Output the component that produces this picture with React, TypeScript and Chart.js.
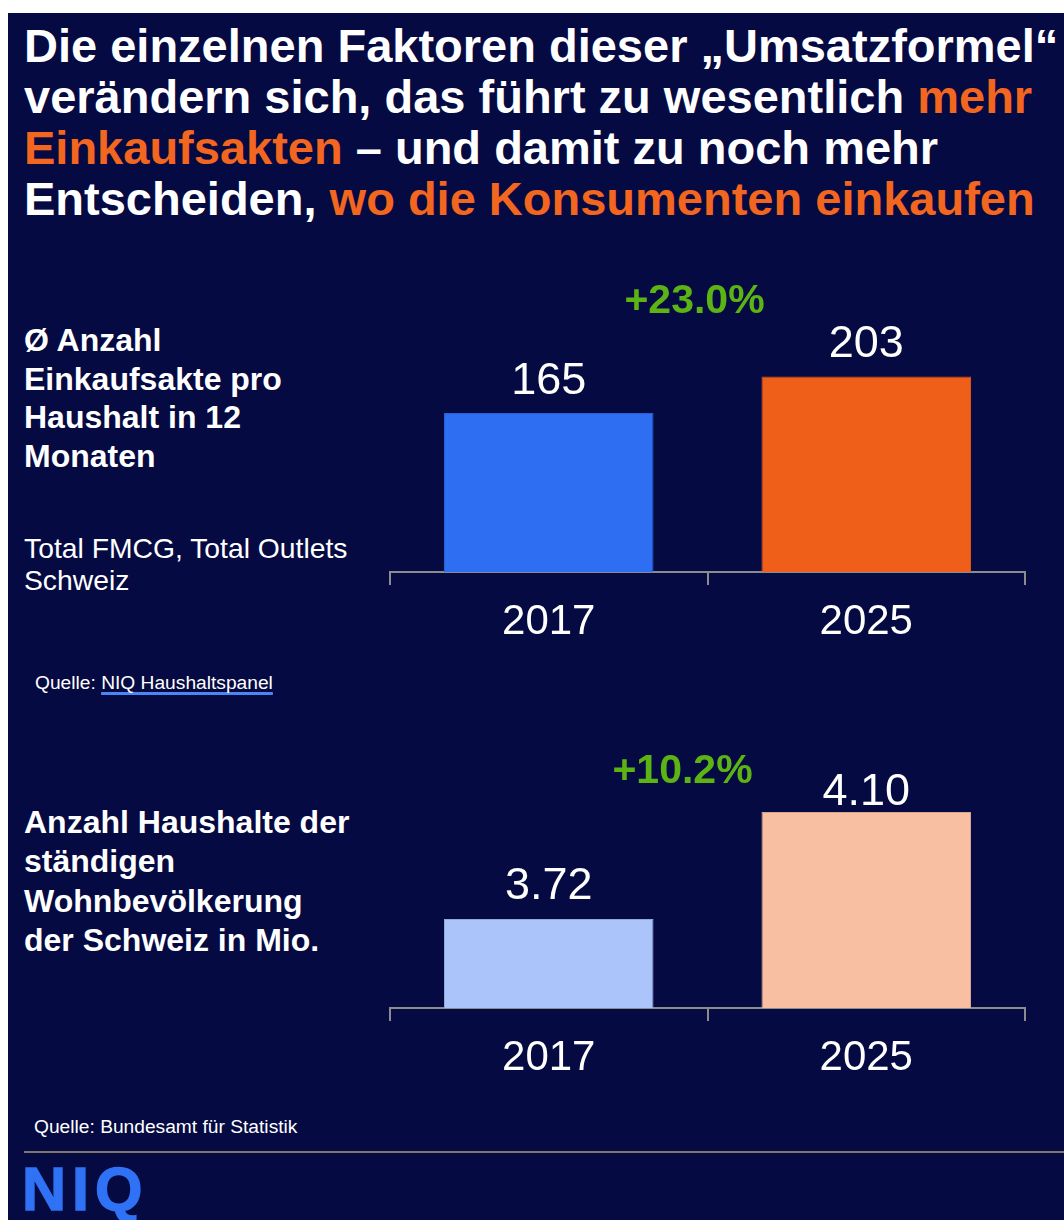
import React, { useEffect, useRef } from "react";
import { Chart, registerables } from "chart.js";

Chart.register(...registerables);

const FONT = '"Liberation Sans", Arial, Helvetica, sans-serif';

const years = ["2017", "2025"];
const shoppingTrips = [165, 203];
const households = [3.72, 4.1];

const NAVY = "#050a42";
const ORANGE = "#f2661f";
const GREEN = "#5cb314";
const AXIS = "#8c8c8c";

const labelPlugin = {
  id: "valueLabels",
  afterDatasetsDraw(chart: any, _args: any, opts: any) {
    const ctx = chart.ctx;
    const meta = chart.getDatasetMeta(0);
    const data = chart.data.datasets[0].data as number[];
    ctx.save();
    ctx.textAlign = "center";
    ctx.textBaseline = "alphabetic";
    ctx.fillStyle = "#ffffff";
    ctx.font = `${opts.size}px ${FONT}`;
    meta.data.forEach((bar: any, i: number) => {
      ctx.fillText(opts.format(data[i]), bar.x, bar.y - opts.gaps[i]);
    });
    const growth = (data[1] / data[0] - 1) * 100;
    const midX = (meta.data[0].x + meta.data[1].x) / 2 + opts.growthDx;
    const y = meta.data[1].y - opts.growthDy;
    ctx.fillStyle = GREEN;
    ctx.font = `bold ${opts.growthSize}px ${FONT}`;
    ctx.fillText(`+${growth.toFixed(1)}%`, midX, y);
    ctx.restore();
  },
};

function BarChart(props: {
  values: number[];
  colors: string[];
  borders: string[];
  min: number;
  max: number;
  padTop: number;
  width: number;
  height: number;
  format: (v: number) => string;
  gaps: number[];
  growthDx: number;
  growthDy: number;
}) {
  const ref = useRef<HTMLCanvasElement>(null);
  useEffect(() => {
    if (!ref.current) return;
    const chart = new Chart(ref.current, {
      type: "bar",
      data: {
        labels: years,
        datasets: [
          {
            data: props.values,
            backgroundColor: props.colors,
            borderColor: props.borders,
            borderWidth: 1,
            barPercentage: 0.66,
            categoryPercentage: 1,
          },
        ],
      },
      options: {
        animation: false,
        responsive: false,
        maintainAspectRatio: false,
        layout: { padding: { left: 10, right: 25, top: props.padTop, bottom: 0 } },
        plugins: {
          legend: { display: false },
          tooltip: { enabled: false },
          valueLabels: {
            size: 45,
            growthSize: 41,
            format: props.format,
            gaps: props.gaps,
            growthDx: props.growthDx,
            growthDy: props.growthDy,
          },
        } as any,
        scales: {
          x: {
            grid: {
              offset: true,
              drawOnChartArea: false,
              drawTicks: true,
              tickLength: 13,
              color: AXIS,
              lineWidth: 2,
            },
            border: { display: true, color: AXIS, width: 2 },
            ticks: {
              color: "#ffffff",
              font: { size: 42, family: FONT },
              padding: 12,
            },
            afterFit: (s: any) => {
              s.height = 88;
            },
          },
          y: { display: false, min: props.min, max: props.max },
        },
      },
      plugins: [labelPlugin],
    });
    return () => chart.destroy();
  }, []);
  return (
    <canvas
      ref={ref}
      width={props.width}
      height={props.height}
      style={{ width: props.width, height: props.height, display: "block" }}
    />
  );
}

const abs = (left: number, top: number, extra: React.CSSProperties = {}): React.CSSProperties => ({
  position: "absolute",
  left,
  top,
  margin: 0,
  fontFamily: FONT,
  color: "#ffffff",
  whiteSpace: "nowrap",
  ...extra,
});

export default function App() {
  return (
    <div
      style={{
        position: "absolute",
        left: 0,
        top: 0,
        width: 1064,
        height: 1220,
        background: "#ffffff",
        overflow: "hidden",
      }}
    >
      <div style={{ position: "absolute", left: 8, top: 13, width: 1056, height: 1207, background: NAVY }} />
      <div style={abs(24, 20, { fontSize: 47, fontWeight: 700, lineHeight: "51px" })}>
        Die einzelnen Faktoren dieser „Umsatzformel“
        <br />
        verändern sich, das führt zu wesentlich <span style={{ color: ORANGE }}>mehr</span>
        <br />
        <span style={{ color: ORANGE }}>Einkaufsakten</span> – und damit zu noch mehr
        <br />
        Entscheiden, <span style={{ color: ORANGE }}>wo die Konsumenten einkaufen</span>
      </div>

      <div style={abs(24, 321, { fontSize: 32, fontWeight: 700, lineHeight: "38.7px" })}>
        Ø Anzahl
        <br />
        Einkaufsakte pro
        <br />
        Haushalt in 12
        <br />
        Monaten
      </div>
      <div style={abs(24, 532, { fontSize: 28.3, lineHeight: "32px" })}>
        Total FMCG, Total Outlets
        <br />
        Schweiz
      </div>
      <div style={abs(35, 673, { fontSize: 19.2, lineHeight: "20px" })}>
        Quelle:{" "}
        <span
          style={{
            textDecoration: "underline",
            textDecorationColor: "#4d86f0",
            textDecorationThickness: 3,
            textUnderlineOffset: 3,
            textDecorationSkipInk: "none",
          }}
        >
          NIQ Haushaltspanel
        </span>
      </div>

      <div style={abs(380, 260)}>
        <BarChart
          values={shoppingTrips}
          colors={["#2d6ef2", "#ef5f1a"]}
          borders={["#2a5fd0", "#d9561a"]}
          min={0}
          max={313.4}
          padTop={10}
          width={670}
          height={400}
          format={(v) => String(v)}
          gaps={[19, 19]}
          growthDx={-13}
          growthDy={63}
        />
      </div>

      <div style={abs(24, 803, { fontSize: 32, fontWeight: 700, lineHeight: "39.3px" })}>
        Anzahl Haushalte der
        <br />
        ständigen
        <br />
        Wohnbevölkerung
        <br />
        der Schweiz in Mio.
      </div>

      <div style={abs(380, 700)}>
        <BarChart
          values={households}
          colors={["#abc5fa", "#f8bfa2"]}
          borders={["#8fa8dd", "#d9a68c"]}
          min={3.404}
          max={4.427}
          padTop={20}
          width={670}
          height={396}
          format={(v) => v.toFixed(2)}
          gaps={[20, 7]}
          growthDx={-25}
          growthDy={29}
        />
      </div>

      <div style={abs(34, 1117, { fontSize: 19.2, lineHeight: "20px" })}>Quelle: Bundesamt für Statistik</div>
      <div style={{ position: "absolute", left: 24, top: 1151, width: 1040, height: 2, background: "#7d776a" }} />
      <div
        style={abs(22, 1159, {
          fontSize: 61,
          fontWeight: 700,
          lineHeight: "61px",
          color: "#2f72f5",
          letterSpacing: 6,
          WebkitTextStroke: "1.5px #2f72f5",
        })}
      >
        NIQ
      </div>
    </div>
  );
}
